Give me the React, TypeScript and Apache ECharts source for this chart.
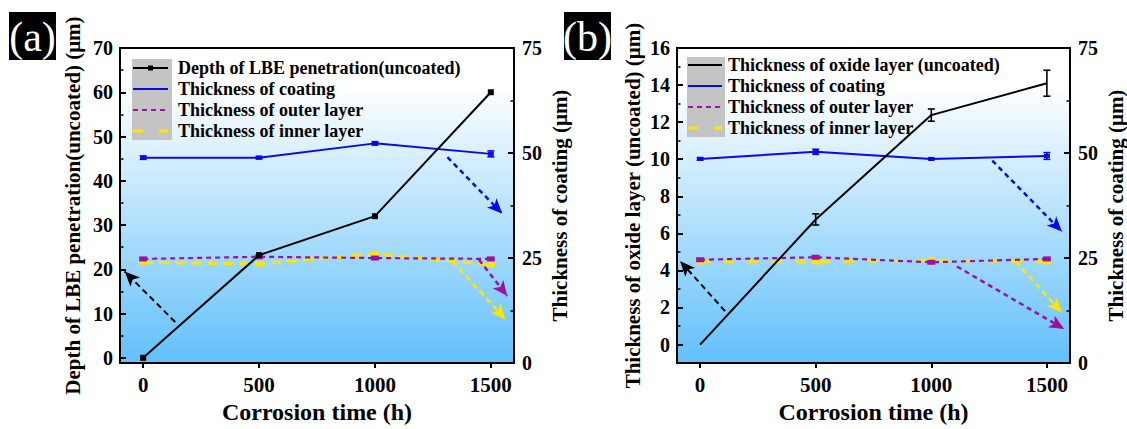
import React, { useEffect, useRef } from "react";
import * as echarts from "echarts";

// ---------- data ----------
const timeH = [0, 500, 1000, 1500];

// panel (a)
const depthA = [0, 23.2, 32, 60];
const coatingA = [48.9, 48.9, 52.3, 49.8];
const coatingErrA = [0.4, 0.3, 0.4, 0.7];
const outerA = [24.8, 25.3, 25.0, 24.8];
const innerA = [24.0, 23.6, 26.0, 23.4];

// panel (b)
const oxideB = [0, 6.75, 12.38, 14.1];
const oxideErrB = [0, 0.3, 0.33, 0.7];
const coatingB = [48.6, 50.3, 48.6, 49.3];
const coatingErrB = [0.3, 0.6, 0.2, 0.8];
const outerB = [24.6, 25.2, 24.0, 24.8];
const innerB = [24.1, 24.1, 24.5, 24.1];

// ticks
const xTicks = [0, 500, 1000, 1500];
const leftTicksA = [0, 10, 20, 30, 40, 50, 60, 70];
const leftTicksB = [0, 2, 4, 6, 8, 10, 12, 14, 16];

// arrow annotations (data coordinates: start, end)
const arrowDepthA = [[138, 8.1], [-80, 19.5]];
const arrowCoatingA = [[1313, 49.0], [1549, 35.6]];
const arrowOuterA = [[1449, 24.6], [1571, 16.0]];
const arrowInnerA = [[1335, 24.2], [1564, 10.4]];
const arrowOxideB = [[108, 1.8], [-86, 4.5]];
const arrowCoatingB = [[1264, 48.2], [1565, 31.3]];
const arrowOuterB = [[1111, 23.0], [1575, 8.1]];
const arrowInnerB = [[1365, 24.2], [1565, 12.0]];

// texts
const legendA = [
  "Depth of LBE penetration(uncoated)",
  "Thickness of coating",
  "Thickness of outer layer",
  "Thickness of inner layer",
];
const legendB = [
  "Thickness of oxide layer (uncoated)",
  "Thickness of coating",
  "Thickness of outer layer",
  "Thickness of inner layer",
];
const xName = "Corrosion time (h)";
const leftNameA = "Depth of LBE penetration(uncoated) (μm)";
const leftNameB = "Thickness of oxide layer (uncoated) (μm)";
const rightName = "Thickness of coating (μm)";

// ---------- styles ----------
const FONT = '"Liberation Serif", "Times New Roman", serif';
const BLACK = "#000000";
const BLUE = "#0a0ae6";
const PURPLE = "#a0109f";
const YELLOW = "#ffe600";
const GREY = "#c4c4c4";

const pairs = (vals: number[]) => timeH.map((t, i) => [t, vals[i]]);

const arrowLine = (pts: number[][], color: string, dash: number[], width = 2) => ({
  silent: true,
  symbol: ["none", "arrow"],
  symbolSize: [10, 15],
  label: { show: false },
  emphasis: { disabled: true },
  lineStyle: { color, type: dash, width, opacity: 1 },
  data: [[{ coord: pts[0] }, { coord: pts[1] }]],
});

const errSeries = (gi: number, yi: number, vals: number[], errs: number[], color: string, capW: number) => ({
  type: "custom",
  xAxisIndex: gi,
  yAxisIndex: yi,
  silent: true,
  z: 6,
  data: timeH
    .map((t, i) => [t, vals[i] - errs[i], vals[i] + errs[i], errs[i]])
    .filter((d) => d[3] > 0),
  encode: { x: 0, y: [1, 2] },
  renderItem: (_params: any, api: any) => {
    const x = api.value(0);
    const lo = api.coord([x, api.value(1)]);
    const hi = api.coord([x, api.value(2)]);
    const style = { stroke: color, lineWidth: 1.6, fill: "none" };
    return {
      type: "group",
      children: [
        { type: "line", shape: { x1: lo[0], y1: lo[1], x2: hi[0], y2: hi[1] }, style },
        { type: "line", shape: { x1: lo[0] - capW, y1: lo[1], x2: lo[0] + capW, y2: lo[1] }, style },
        { type: "line", shape: { x1: hi[0] - capW, y1: hi[1], x2: hi[0] + capW, y2: hi[1] }, style },
      ],
    };
  },
});

const tickLabel = (size: number) => ({
  color: BLACK,
  fontFamily: FONT,
  fontWeight: "bold" as const,
  fontSize: size,
});

const plain = (v: number) => String(v);

const makeX = (gi: number) => ({
  type: "value",
  gridIndex: gi,
  min: -100,
  max: 1600,
  minInterval: 500,
  maxInterval: 500,
  axisLine: { show: true, onZero: false, lineStyle: { color: BLACK, width: 2 } },
  axisTick: { show: true, inside: false, length: 5, customValues: xTicks, lineStyle: { color: BLACK, width: 2 } },
  axisLabel: { customValues: xTicks, margin: 11, formatter: plain, ...tickLabel(21) },
  splitLine: { show: false },
  name: xName,
  nameLocation: "middle",
  nameGap: 36,
  nameTextStyle: { ...tickLabel(24) },
});

const makeLeft = (gi: number, min: number, max: number, step: number, ticks: number[], name: string, gap: number) => ({
  type: "value",
  gridIndex: gi,
  position: "left",
  min,
  max,
  minInterval: step,
  maxInterval: step,
  axisLine: { show: true, onZero: false, lineStyle: { color: BLACK, width: 2 } },
  axisTick: { show: true, inside: true, length: 6, customValues: ticks, lineStyle: { color: BLACK, width: 2 } },
  minorTick: { show: true, splitNumber: 2, length: 3.5, lineStyle: { color: BLACK, width: 1.5 } },
  axisLabel: { customValues: ticks, margin: 7, formatter: plain, ...tickLabel(20) },
  splitLine: { show: false },
  minorSplitLine: { show: false },
  name,
  nameLocation: "middle",
  nameGap: gap,
  nameRotate: 90,
  nameTextStyle: { ...tickLabel(21) },
});

const makeRight = (gi: number, gap: number) => ({
  type: "value",
  gridIndex: gi,
  position: "right",
  min: 0,
  max: 75,
  interval: 25,
  axisLine: { show: true, onZero: false, lineStyle: { color: BLACK, width: 2 } },
  axisTick: { show: true, inside: true, length: 6, lineStyle: { color: BLACK, width: 2 } },
  minorTick: { show: true, splitNumber: 2, length: 3.5, lineStyle: { color: BLACK, width: 1.5 } },
  axisLabel: { margin: 8, formatter: plain, ...tickLabel(20) },
  splitLine: { show: false },
  minorSplitLine: { show: false },
  name: rightName,
  nameLocation: "middle",
  nameGap: gap,
  nameRotate: 90,
  nameTextStyle: { ...tickLabel(21) },
});

const plotBg = () =>
  new echarts.graphic.LinearGradient(0, 0, 0, 1, [
    { offset: 0, color: "#ffffff" },
    { offset: 0.12, color: "#ffffff" },
    { offset: 1, color: "#62c0fb" },
  ]);

const legendGraphic = (
  labels: string[],
  box: { x: number; y: number; w: number; h: number },
  lineX1: number,
  lineX2: number,
  textX: number,
  rowY: number[],
  withMarker: boolean
) => {
  const els: any[] = [
    { type: "rect", shape: { x: box.x, y: box.y, width: box.w, height: box.h }, style: { fill: GREY }, z: 10 },
  ];
  const styles = [
    { stroke: BLACK, lineWidth: 2 },
    { stroke: BLUE, lineWidth: 2 },
    { stroke: PURPLE, lineWidth: 2.2, lineDash: [5, 4] },
    { stroke: YELLOW, lineWidth: 3, lineDash: [10, 16] },
  ];
  labels.forEach((lab, i) => {
    els.push({
      type: "line",
      shape: { x1: lineX1, y1: rowY[i], x2: lineX2, y2: rowY[i] },
      style: styles[i],
      z: 11,
    });
    els.push({
      type: "text",
      x: textX,
      y: rowY[i],
      style: {
        text: lab,
        fill: BLACK,
        font: 'bold 18px "Liberation Serif", "Times New Roman", serif',
        align: "left",
        verticalAlign: "middle",
      },
      z: 11,
    });
  });
  if (withMarker) {
    const cx = (lineX1 + lineX2) / 2;
    els.push({ type: "rect", shape: { x: cx - 2.5, y: rowY[0] - 2.5, width: 5, height: 5 }, style: { fill: BLACK }, z: 12 });
  }
  return els;
};

const panelLabel = (x: number, text: string) => [
  { type: "rect", shape: { x, y: 12, width: 47, height: 48 }, style: { fill: BLACK }, z: 10 },
  {
    type: "text",
    x: x + 23.5,
    y: 37,
    style: {
      text,
      fill: "#ffffff",
      font: 'normal 42px "Liberation Serif", "Times New Roman", serif',
      align: "center",
      verticalAlign: "middle",
    },
    z: 11,
  },
];

export default function App() {
  const ref = useRef<HTMLDivElement>(null);

  useEffect(() => {
    if (!ref.current) return;
    const chart = echarts.init(ref.current, null, { renderer: "svg" });

    const option: any = {
      animation: false,
      backgroundColor: "#ffffff",
      grid: [
        { left: 120, top: 48, width: 394, height: 318, show: true, borderColor: BLACK, borderWidth: 2, backgroundColor: plotBg(), containLabel: false },
        { left: 677, top: 48, width: 394, height: 318, show: true, borderColor: BLACK, borderWidth: 2, backgroundColor: plotBg(), containLabel: false },
      ],
      xAxis: [makeX(0), makeX(1)],
      yAxis: [
        makeLeft(0, -1.2, 70, 10, leftTicksA, leftNameA, 37),
        makeRight(0, 35),
        makeLeft(1, -1, 16, 2, leftTicksB, leftNameB, 34),
        makeRight(1, 35),
      ],
      series: [
        // ----- panel (a) -----
        {
          type: "line", name: legendA[1], xAxisIndex: 0, yAxisIndex: 1, data: pairs(coatingA),
          lineStyle: { color: BLUE, width: 2 }, itemStyle: { color: BLUE }, symbol: "rect", symbolSize: [6, 4], z: 4,
          markLine: arrowLine(arrowCoatingA, BLUE, [5, 4], 2.5),
        },
        {
          type: "line", name: legendA[3], xAxisIndex: 0, yAxisIndex: 1, data: pairs(innerA),
          lineStyle: { color: YELLOW, width: 3, type: [10, 6] }, itemStyle: { color: YELLOW }, symbol: "rect", symbolSize: [8, 5], z: 3,
          markLine: arrowLine(arrowInnerA, YELLOW, [6, 4], 2.5),
        },
        {
          type: "line", name: legendA[2], xAxisIndex: 0, yAxisIndex: 1, data: pairs(outerA),
          lineStyle: { color: PURPLE, width: 2.2, type: [5, 4] }, itemStyle: { color: PURPLE }, symbol: "rect", symbolSize: [8, 5], z: 4,
          markLine: arrowLine(arrowOuterA, PURPLE, [5, 4], 2.5),
        },
        {
          type: "line", name: legendA[0], xAxisIndex: 0, yAxisIndex: 0, data: pairs(depthA),
          lineStyle: { color: BLACK, width: 2 }, itemStyle: { color: BLACK }, symbol: "rect", symbolSize: 6, z: 5,
          markLine: arrowLine(arrowDepthA, BLACK, [6, 4], 2),
        },
        errSeries(0, 1, coatingA, coatingErrA, BLUE, 3.5),
        // ----- panel (b) -----
        {
          type: "line", name: legendB[1], xAxisIndex: 1, yAxisIndex: 3, data: pairs(coatingB),
          lineStyle: { color: BLUE, width: 2 }, itemStyle: { color: BLUE }, symbol: "rect", symbolSize: [6, 4], z: 4,
          markLine: arrowLine(arrowCoatingB, BLUE, [5, 4], 2.5),
        },
        {
          type: "line", name: legendB[3], xAxisIndex: 1, yAxisIndex: 3, data: pairs(innerB),
          lineStyle: { color: YELLOW, width: 3, type: [10, 14] }, itemStyle: { color: YELLOW }, symbol: "rect", symbolSize: [8, 5], z: 3,
          markLine: arrowLine(arrowInnerB, YELLOW, [6, 4], 2.5),
        },
        {
          type: "line", name: legendB[2], xAxisIndex: 1, yAxisIndex: 3, data: pairs(outerB),
          lineStyle: { color: PURPLE, width: 2.2, type: [5, 4] }, itemStyle: { color: PURPLE }, symbol: "rect", symbolSize: [8, 5], z: 4,
          markLine: arrowLine(arrowOuterB, PURPLE, [5, 4], 2.5),
        },
        {
          type: "line", name: legendB[0], xAxisIndex: 1, yAxisIndex: 2, data: pairs(oxideB),
          lineStyle: { color: BLACK, width: 2 }, itemStyle: { color: BLACK }, symbol: "none", z: 5,
          markLine: arrowLine(arrowOxideB, BLACK, [6, 4], 2),
        },
        errSeries(1, 2, oxideB, oxideErrB, BLACK, 3.5),
        errSeries(1, 3, coatingB, coatingErrB, BLUE, 3.5),
      ],
      graphic: [
        ...panelLabel(9, "(a)"),
        ...panelLabel(564, "(b)"),
        ...legendGraphic(legendA, { x: 132, y: 59, w: 40, h: 81 }, 133, 168, 178, [68, 89, 110, 131], true),
        ...legendGraphic(legendB, { x: 687, y: 57, w: 38, h: 80 }, 688, 722, 728, [65, 86, 107, 128], false),
      ],
    };

    chart.setOption(option);
    return () => chart.dispose();
  }, []);

  return (
    <div
      ref={ref}
      style={{ position: "fixed", left: 0, top: 0, width: 1127, height: 429, background: "#fff" }}
    />
  );
}
